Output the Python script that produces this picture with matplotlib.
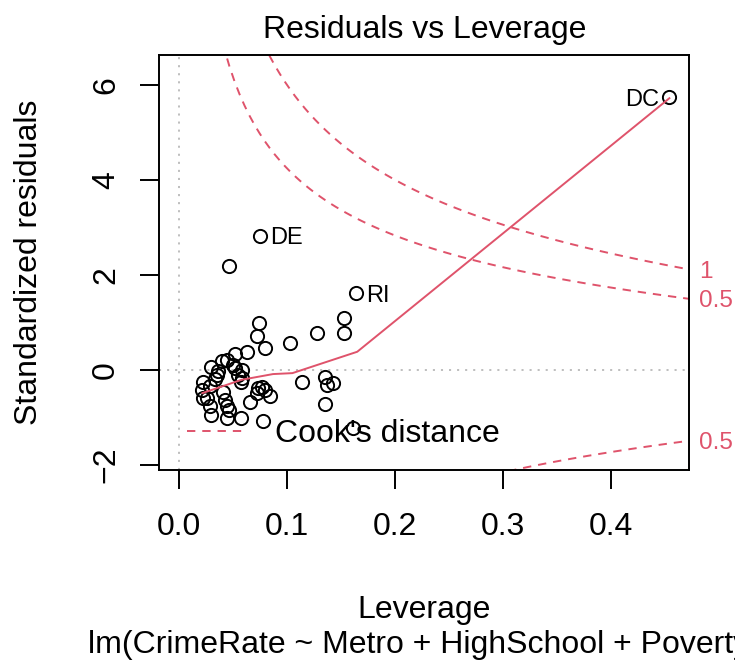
import numpy as np
import matplotlib
matplotlib.use("Agg")
import matplotlib.pyplot as plt
from matplotlib.lines import Line2D

# Leverage (hat values) and standardized residuals for each observation
leverage = [
    0.454, 0.075, 0.046, 0.164, 0.153, 0.153, 0.128, 0.074, 0.072, 0.080,
    0.103, 0.063, 0.052, 0.044, 0.030, 0.036, 0.052, 0.058, 0.055, 0.057,
    0.033, 0.0225, 0.021, 0.0225, 0.029, 0.041, 0.043, 0.044, 0.046, 0.029,
    0.030, 0.044, 0.057, 0.078, 0.066, 0.077, 0.080, 0.084, 0.072, 0.114,
    0.135, 0.137, 0.143, 0.135, 0.161, 0.050, 0.035, 0.058, 0.026, 0.040,
    0.073,
]
std_resid = [
    5.74, 2.82, 2.18, 1.61, 1.10, 0.78, 0.77, 0.98, 0.71, 0.46,
    0.57, 0.37, 0.33, 0.21, 0.06, -0.03, 0.03, 0.00, -0.10, -0.25,
    -0.20, -0.25, -0.42, -0.60, -0.35, -0.46, -0.63, -0.77, -0.84, -0.77,
    -0.95, -1.02, -1.02, -1.07, -0.67, -0.36, -0.43, -0.56, -0.49, -0.26,
    -0.16, -0.32, -0.27, -0.72, -1.22, 0.10, -0.10, -0.17, -0.60, 0.19,
    -0.38,
]

# Observations flagged by name
id_names = ["DC", "DE", "RI"]
id_rows = [0, 1, 3]

# Lowess smooth of the residuals against leverage
smooth_lev = [0.0217, 0.058, 0.087, 0.105, 0.165, 0.454]
smooth_res = [-0.49, -0.21, -0.09, -0.07, 0.38, 5.72]

# Cook's distance contour levels and number of model coefficients
cook_levels = [0.5, 1.0]
n_coef = 4

x_ticks = [0.0, 0.1, 0.2, 0.3, 0.4]
x_tick_labels = ["0.0", "0.1", "0.2", "0.3", "0.4"]
y_ticks = [-2, 0, 2, 4, 6]
y_tick_labels = ["\u22122", "0", "2", "4", "6"]

RED = "#DF536B"
GREY = "#BEBEBE"
FS = 23

plt.rcParams["font.family"] = ["Liberation Sans", "DejaVu Sans"]
plt.rcParams["lines.scale_dashes"] = False

lev = np.asarray(leverage)
res = np.asarray(std_resid)

W, H = 735, 660
fig = plt.figure(figsize=(W / 100, H / 100), dpi=100)
left, right, top, bottom = 159.4, 689.0, 55.5, 469.5
ax = fig.add_axes([left / W, 1 - bottom / H, (right - left) / W, (bottom - top) / H])

# axis limits: data range, y widened for labels, then a 4% margin
x0, x1 = 0.0, lev.max()
dx = 0.04 * (x1 - x0)
ax.set_xlim(x0 - dx, x1 + dx)
y0, y1 = res.min(), res.max()
ey = 0.08 * (y1 - y0)
y0, y1 = y0 - ey, y1 + ey
dy = 0.04 * (y1 - y0)
ax.set_ylim(y0 - dy, y1 + dy)

dash = (0, (6.0, 5.0))
dot = (0, (1.5, 4.3))

ax.axhline(0, color=GREY, lw=1.4, ls=dot, zorder=1)
ax.axvline(0, color=GREY, lw=1.4, ls=dot, zorder=1)

ax.plot(lev, res, "o", mfc="none", mec="black", ms=9.5, mew=1.4, zorder=3)
ax.plot(smooth_lev, smooth_res, color=RED, lw=1.4, zorder=4)

# Cook's distance contours
usr = ax.get_xlim()
hh = np.linspace(min(lev.min(), lev.max() / 100), usr[1], 101)
for level in cook_levels:
    cl_h = np.sqrt(level * n_coef * (1 - hh) / hh)
    ax.plot(hh, cl_h, color=RED, lw=1.4, ls=dash, zorder=2)
    ax.plot(hh, -cl_h, color=RED, lw=1.4, ls=dash, zorder=2)

for name, i in zip(id_names, id_rows):
    on_right = lev[i] > np.mean([lev[id_rows].min(), lev[id_rows].max()])
    ax.annotate(name, (lev[i], res[i]), xytext=(-7.5 if on_right else 7.5, 0),
                textcoords="offset points", ha="right" if on_right else "left",
                va="center_baseline", fontsize=17, zorder=5)

ax.set_xticks(x_ticks, x_tick_labels)
ax.set_yticks(y_ticks, y_tick_labels)
ax.tick_params(axis="both", direction="out", length=13.7, width=1.4,
               labelsize=FS, color="black")
ax.tick_params(axis="x", pad=17)
ax.tick_params(axis="y", pad=14, labelrotation=90)
for t in ax.get_yticklabels():
    t.set_va("center")
for s in ax.spines.values():
    s.set_linewidth(1.4)

# contour levels on the right margin
def level_text(v):
    return f"{v:g}"

xmax = min(0.99, usr[1])
ymult = np.sqrt(n_coef * (1 - xmax) / xmax)
aty = np.sqrt(cook_levels) * ymult
ylim = ax.get_ylim()
rt_pos = list(-aty[::-1]) + list(aty)
rt_lab = [level_text(v) for v in cook_levels[::-1]] + [level_text(v) for v in cook_levels]
keep = [(p, l) for p, l in zip(rt_pos, rt_lab) if ylim[0] <= p <= ylim[1]]
ax2 = ax.twinx()
ax2.set_ylim(ylim)
ax2.set_yticks([p for p, _ in keep], [l for _, l in keep])
ax2.tick_params(axis="y", length=0, pad=7, labelsize=17.5, labelcolor=RED)
for s in ax2.spines.values():
    s.set_visible(False)

ax.legend(handles=[Line2D([], [], color=RED, lw=1.4, ls=dash)],
          labels=["Cook's distance"], loc="lower left",
          bbox_to_anchor=(0.052, 0.05), borderaxespad=0, borderpad=0,
          handlelength=1.85, handletextpad=0.9, frameon=False, fontsize=FS)

ax.set_title("Residuals vs Leverage", fontsize=FS, pad=12.5)
ax.set_xlabel("Leverage", fontsize=FS)
ax.xaxis.set_label_coords(0.5, (bottom - 595) / (bottom - top))
ax.set_ylabel("Standardized residuals", fontsize=FS)
ax.yaxis.set_label_coords((44 - left) / (right - left), 0.5)

fig.text((left + right) / 2 / W, 1 - 653 / H,
         "lm(CrimeRate ~ Metro + HighSchool + Poverty)",
         ha="center", va="baseline", fontsize=FS)

fig.savefig("out.png", dpi=100)
